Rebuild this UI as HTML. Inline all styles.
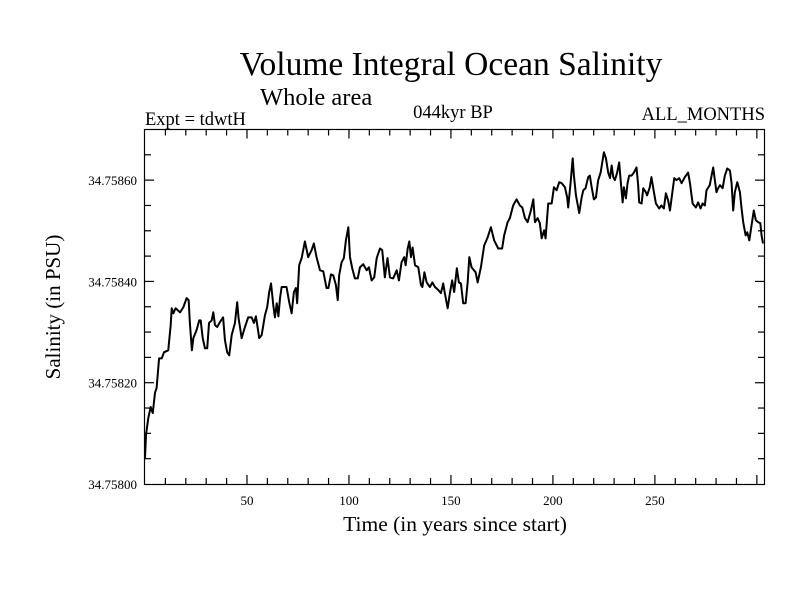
<!DOCTYPE html>
<html><head><meta charset="utf-8"><style>
body{margin:0;background:#fff}
svg text{font-family:"Liberation Serif",serif;fill:#000}
</style></head><body>
<svg id="chart" width="800" height="600" viewBox="0 0 800 600" xmlns="http://www.w3.org/2000/svg">
<rect width="800" height="600" fill="#fff"/>
<text x="451" y="75" font-size="33.5" text-anchor="middle">Volume Integral Ocean Salinity</text>
<text x="260" y="105" font-size="24.5">Whole area</text>
<text x="145" y="125" font-size="18.5">Expt = tdwtH</text>
<text x="453" y="118" font-size="18.5" text-anchor="middle">044kyr BP</text>
<text x="765" y="120" font-size="18.5" text-anchor="end">ALL_MONTHS</text>
<text x="455" y="531" font-size="21.5" text-anchor="middle">Time (in years since start)</text>
<text transform="translate(60,307) rotate(-90)" font-size="21" text-anchor="middle">Salinity (in PSU)</text>
<g id="axes"></g>
<path id="series" fill="none" stroke="#000" stroke-width="2" stroke-linejoin="round"/>
<rect x="144.5" y="129.5" width="620" height="355" fill="none" stroke="#000" stroke-width="1.2"/>
</svg>
<script>
const years=[0,0.5,1.6,2.8,3.8,4.9,5.7,6.9,8.2,9.3,11.4,12.6,13.1,13.9,15,17.2,18.8,20.4,21.4,22,23,23.7,25.3,26.6,27.3,28.3,29.4,30.5,31.4,32.7,33.5,34.3,35.4,36.8,38.3,39.2,40.3,41.3,42.5,44.1,45.2,45.9,47.4,49,50.6,52.3,53.4,54.4,56,57.2,58.8,59.9,60.9,61.8,62.9,63.7,64.6,65.4,66.2,67,69.4,70.7,71.9,73,74,74.6,75.6,76.8,78.4,80,81.7,82.8,84.1,85.8,87.4,89,89.9,91.2,92.3,93.6,94.5,95.2,96.4,97.5,98.5,99.7,100.5,101.6,102.9,104.3,105.4,107,108.7,109.8,111.1,112.4,113.6,115.2,116.3,117.6,118.9,120.1,121.7,123.4,124.5,125.8,127.1,127.8,128.8,129.6,130.4,131.2,132.4,134,135.3,136,137,138.1,139.7,140.9,142.2,143.8,145.1,146.2,147,148.4,149.5,150.6,151.6,152.9,153.9,154.9,156,157.2,158.2,159,160.1,162.1,163.1,164.7,166.3,168,169.6,171.2,173.2,175.1,176.1,177.8,178.9,180.5,182.2,183.8,185,186.3,187.6,189.2,190.4,191.2,192.5,193.6,194.5,195.7,196.4,197.7,199.4,200.5,201.8,203.1,204.3,205.9,207,207.5,208.7,209.7,210.3,211.3,212.9,214.1,214.9,216,217.3,218.1,219,220.1,221.1,222.2,223.4,225,226,227.1,228,228.8,229.6,230.4,231.5,232.5,233.2,234.2,234.8,235.8,236.6,237.4,238.6,239.7,241,241.8,242.3,243.5,244.3,245.6,246.2,247.5,248.3,249.2,250.5,252.1,253.2,254.4,255.4,256.5,257.4,258.7,259.5,260.6,261.9,263.1,264.7,266.3,267.2,268.5,270.1,271.2,272.4,273.4,274.5,275.3,276.9,277.8,278.6,279.4,280.2,281,281.9,283.2,284.3,285.5,286.8,287.6,288.4,289.2,290.4,291.7,292.5,293.3,294.5,295.3,296.3,297.4,298.5,299.5,300.6,301.7,302.3,303];
const salinity=[34.758051,34.758097,34.75813,34.758152,34.75814,34.75818,34.75819,34.758248,34.758248,34.75826,34.758264,34.758314,34.758347,34.758337,34.758347,34.758339,34.758349,34.758367,34.758363,34.758318,34.758264,34.758288,34.758304,34.758323,34.758323,34.758288,34.758268,34.758268,34.758318,34.758323,34.758339,34.758314,34.75831,34.75832,34.758329,34.758284,34.75826,34.758254,34.758294,34.758318,34.758359,34.758327,34.758288,34.75831,34.758329,34.758329,34.758318,34.758331,34.758288,34.758294,34.758333,34.758349,34.758379,34.758396,34.758353,34.758329,34.758357,34.758331,34.758367,34.758389,34.758389,34.758359,34.758337,34.758379,34.758387,34.758357,34.758432,34.758446,34.758479,34.758448,34.758462,34.758475,34.758448,34.758422,34.75842,34.758387,34.758387,34.758414,34.758412,34.758393,34.758363,34.758412,34.758438,34.758446,34.758481,34.758507,34.758448,34.758426,34.758406,34.758406,34.758428,34.758434,34.758422,34.758428,34.758402,34.758408,34.758446,34.758465,34.758462,34.758408,34.758446,34.758408,34.758406,34.758422,34.758402,34.758438,34.758448,34.758432,34.758465,34.758479,34.758448,34.758467,34.758432,34.758428,34.758393,34.758389,34.758418,34.758398,34.758389,34.758398,34.758389,34.758383,34.758377,34.758396,34.758377,34.758347,34.758377,34.758402,34.758379,34.758426,34.758398,34.758396,34.758357,34.758357,34.758398,34.758448,34.758428,34.758418,34.758398,34.758428,34.758471,34.758487,34.758507,34.758481,34.758465,34.758465,34.758491,34.758517,34.758525,34.75855,34.758562,34.75855,34.758546,34.758525,34.758517,34.75854,34.758562,34.758517,34.758525,34.758515,34.758485,34.758501,34.758485,34.758554,34.758554,34.758586,34.75858,34.758596,34.758594,34.758586,34.758566,34.758546,34.758596,34.758643,34.758609,34.75857,34.758535,34.758566,34.75858,34.758584,34.758606,34.758609,34.758586,34.758562,34.758566,34.7586,34.758615,34.758655,34.758643,34.758615,34.758604,34.758629,34.758606,34.7586,34.758615,34.758635,34.7586,34.758556,34.758586,34.758564,34.758594,34.758609,34.758609,34.758615,34.758625,34.75859,34.758556,34.758554,34.758584,34.758576,34.75857,34.758586,34.758606,34.758584,34.758554,34.758544,34.75855,34.758544,34.758574,34.75856,34.75854,34.75858,34.758604,34.7586,34.758604,34.758594,34.758606,34.758615,34.758594,34.758554,34.758546,34.758556,34.758544,34.758554,34.75855,34.75858,34.75859,34.758609,34.758625,34.7586,34.758576,34.758584,34.75859,34.758584,34.758609,34.758623,34.758619,34.758594,34.75854,34.758576,34.758596,34.758576,34.758544,34.758517,34.758491,34.758497,34.758481,34.758511,34.75854,34.758521,34.758517,34.758515,34.758491,34.758475];
const xTickValues=[50,100,150,200,250];
const yTickValues=[34.758,34.7582,34.7584,34.7586];
const yTickLabels=["34.75800","34.75820","34.75840","34.75860"];

const X0=145,X1=764,Y0=484,Y1=129.5,XMIN=0,XMAX=303.5,YMIN=34.758,YMAX=34.7587;
function xs(v){return X0+(v-XMIN)/(XMAX-XMIN)*(X1-X0);}
function ys(v){return Y0-(v-YMIN)/(YMAX-YMIN)*(Y0-Y1);}
const NS="http://www.w3.org/2000/svg";
const g=document.getElementById('axes');
function line(x1,y1,x2,y2,name){const l=document.createElementNS(NS,'line');
l.setAttribute('x1',x1);l.setAttribute('y1',y1);l.setAttribute('x2',x2);l.setAttribute('y2',y2);
l.setAttribute('stroke','#000');l.setAttribute('stroke-width','1.2');


g.appendChild(l);}
function text(x,y,s,anchor,name){const t=document.createElementNS(NS,'text');
t.setAttribute('x',x);t.setAttribute('y',y);t.setAttribute('font-size','13');t.setAttribute('text-anchor',anchor);t.textContent=s;


g.appendChild(t);}
for(let v=10;v<=300;v+=10){const x=xs(v);const L=(v%50===0)?9:6;
line(x,Y0,x,Y0-L,'x-tick');line(x,Y1,x,Y1+L,'x-tick-top');}
xTickValues.forEach(v=>text(xs(v),505,String(v),'middle','x-tick-label'));
for(let k=1;k<14;k++){const v=YMIN+k*0.00005;const y=ys(v);const L=(k%4===0)?9:6;
line(X0,y,X0+L,y,'y-tick');line(X1,y,X1-L,y,'y-tick-right');}
yTickValues.forEach((v,i)=>text(137,ys(v)+5,yTickLabels[i],'end','y-tick-label'));
let d='';years.forEach((yr,i)=>{d+=(i?'L':'M')+xs(yr).toFixed(2)+','+ys(salinity[i]).toFixed(2);});
document.getElementById('series').setAttribute('d',d);
</script>
</body></html>
